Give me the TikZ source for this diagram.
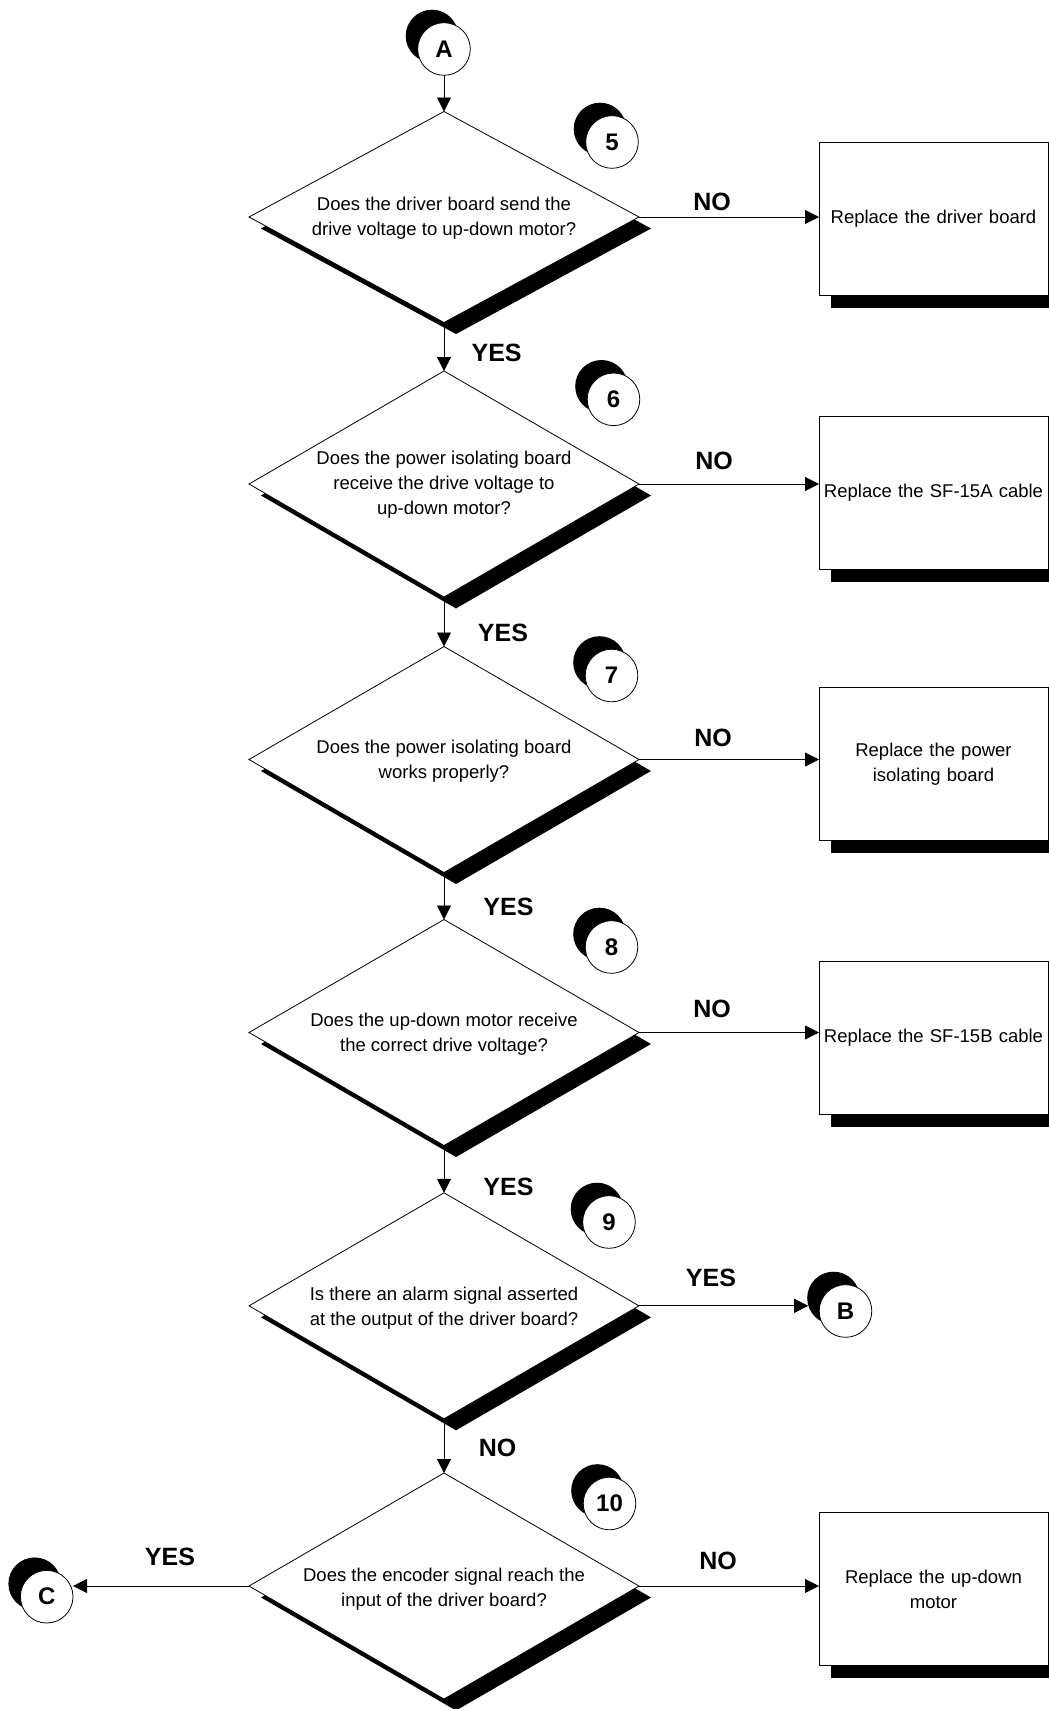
\documentclass[tikz,border=0pt]{standalone}
\usepackage{fontspec}
\setmainfont{Liberation Sans}
\usetikzlibrary{shapes.geometric,arrows.meta,shadows}
\begin{document}
\begin{tikzpicture}[x=1pt,y=-1pt,
  line width=0.8pt,
  arr/.style={-{Triangle[length=14pt,width=14pt]}},
  question/.style={diamond, draw, fill=white, minimum width=390pt, minimum height=226pt,
    inner sep=0pt, outer sep=0pt,
    drop shadow={shadow xshift=12pt, shadow yshift=-11.5pt, fill=black, opacity=1}},
  qtext/.style={align=center, font=\fontsize{18.5}{25}\selectfont, inner sep=0pt},
  action/.style={rectangle, draw, fill=white, minimum width=229pt, minimum height=153pt,
    text width=226pt, inner sep=1.5pt, outer sep=0pt, align=center,
    font=\fontsize{18.5}{25}\selectfont,
    drop shadow={shadow xshift=12pt, shadow yshift=-12.5pt, fill=black, opacity=1}},
  conn/.style={circle, draw, fill=white, minimum size=52.6pt, inner sep=0pt, outer sep=0pt,
    font=\fontsize{24}{28}\bfseries\selectfont,
    drop shadow={shadow xshift=-12pt, shadow yshift=13pt, fill=black, opacity=1}},
  answer/.style={font=\fontsize{25}{30}\bfseries\selectfont, inner sep=0pt}
]
\useasboundingbox (0,0) rectangle (1049,1709);

% off-page connectors
\node[conn] (A) at (444,49) {A};
\node[conn] (B) at (845.5,1311) {B};
\node[conn] (C) at (46.7,1596.7) {C};

% step numbers
\node[conn] (n5) at (612,142) {5};
\node[conn] (n6) at (613.5,399.3) {6};
\node[conn] (n7) at (611.5,675.5) {7};
\node[conn] (n8) at (611.5,947) {8};
\node[conn] (n9) at (609,1222) {9};
\node[conn] (n10) at (609.5,1503.5) {10};

% decisions
\node[question, minimum height=211pt] (d5) at (444,217) {};
\node[question] (d6) at (444,484) {};
\node[question] (d7) at (444,759.5) {};
\node[question] (d8) at (444,1032.5) {};
\node[question] (d9) at (444,1305.8) {};
\node[question] (d10) at (444,1586) {};

\node[qtext] (t5) at (444,218.5) {Does the driver board send the\\drive voltage to up-down motor?};
\node[qtext] (t6) at (444,485) {Does the power isolating board\\receive the drive voltage to\\up-down motor?};
\node[qtext] (t7) at (444,761) {Does the power isolating board\\works properly?};
\node[qtext] (t8) at (444,1034) {Does the up-down motor receive\\the correct drive voltage?};
\node[qtext] (t9) at (444,1308) {Is there an alarm signal asserted\\at the output of the driver board?};
\node[qtext] (t10) at (444,1589) {Does the encoder signal reach the\\input of the driver board?};

% actions
\node[action] (b5) at (933.5,219) {Replace the driver board};
\node[action] (b6) at (933.5,493) {Replace the SF-15A cable};
\node[action] (b7) at (933.5,764) {Replace the power\\isolating board};
\node[action] (b8) at (933.5,1038) {Replace the SF-15B cable};
\node[action] (b10) at (933.5,1589) {Replace the up-down\\motor};

% flow down the main column
\draw[arr] (A) -- (d5.north);
\draw[arr] (d5.south) -- (d6.north);
\draw[arr] (d6.south) -- (d7.north);
\draw[arr] (d7.south) -- (d8.north);
\draw[arr] (d8.south) -- (d9.north);
\draw[arr] (d9.south) -- (d10.north);

% branches to the side
\draw[arr] (d5.east) -- (d5.east -| b5.west);
\draw[arr] (d6.east) -- (d6.east -| b6.west);
\draw[arr] (d7.east) -- (d7.east -| b7.west);
\draw[arr] (d8.east) -- (d8.east -| b8.west);
\draw[arr, shorten >=11pt] (d9.east) -- (d9.east -| B.west);
\draw[arr] (d10.east) -- (d10.east -| b10.west);
\draw[arr] (d10.west) -- (d10.west -| C.east);

% answers
\node[answer] (l5n) at (712,202) {NO};
\node[answer] (l5y) at (496.6,353.3) {YES};
\node[answer] (l6n) at (714,460.7) {NO};
\node[answer] (l6y) at (503,633.3) {YES};
\node[answer] (l7n) at (713,738.3) {NO};
\node[answer] (l7y) at (508.5,906.7) {YES};
\node[answer] (l8n) at (712,1009.3) {NO};
\node[answer] (l8y) at (508.5,1186.7) {YES};
\node[answer] (l9y) at (711,1277.5) {YES};
\node[answer] (l9n) at (497.5,1448) {NO};
\node[answer] (l10y) at (170,1556.5) {YES};
\node[answer] (l10n) at (718,1560.5) {NO};
\end{tikzpicture}
\end{document}
